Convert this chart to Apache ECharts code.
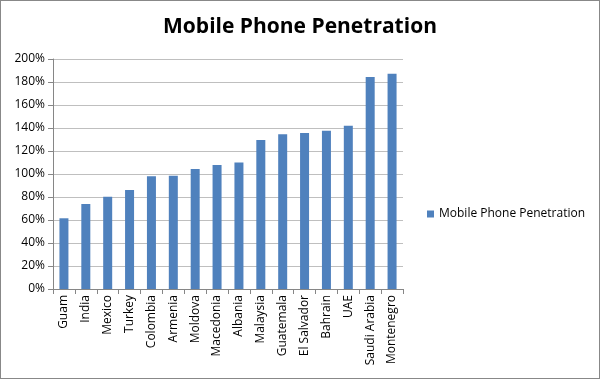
<!DOCTYPE html>
<html><head><meta charset="utf-8">
<script src="https://cdn.jsdelivr.net/npm/echarts@6/dist/echarts.min.js"></script>
<style>html,body{margin:0;padding:0;background:#fff}
#wrap{position:relative;width:600px;height:379px}
#c{position:absolute;left:0;top:0;width:600px;height:379px}
#frame{position:absolute;left:0;top:0;width:600px;height:379px;box-sizing:border-box;border:1px solid #888;pointer-events:none}</style>
</head><body><div id="wrap"><div id="c"></div><div id="frame"></div></div>
<script>
const categories = ["Guam","India","Mexico","Turkey","Colombia","Armenia","Moldova","Macedonia","Albania","Malaysia","Guatemala","El Salvador","Bahrain","UAE","Saudi Arabia","Montenegro"];
const penetration = [61.5, 74, 80.3, 86, 98, 98.5, 104.3, 107.8, 110.1, 129.6, 134.5, 135.6, 137.7, 142, 184.3, 187.2];
const yTicks = [0, 20, 40, 60, 80, 100, 120, 140, 160, 180, 200];
const seriesName = "Mobile Phone Penetration";
const font = "'Open Sans', 'Liberation Sans', sans-serif";
const chart = echarts.init(document.getElementById('c'), null, {renderer: 'canvas'});
chart.setOption({
  animation: false,
  title: {text: "Mobile Phone Penetration", left: 'center', top: 12,
    textStyle: {fontFamily: font, fontWeight: 'bold', fontSize: 21, color: '#000'}},
  legend: {data: [seriesName], left: 422, top: 203, itemWidth: 7, itemHeight: 7, itemGap: 4,
    icon: 'rect', textStyle: {fontFamily: font, fontSize: 12, color: '#000'}},
  grid: {left: 53, right: 197, top: 59, bottom: 90, containLabel: false},
  xAxis: {type: 'category', data: categories,
    axisLine: {lineStyle: {color: '#868686'}},
    axisTick: {show: true, alignWithLabel: false, length: 5, lineStyle: {color: '#868686'}},
    axisLabel: {rotate: 90, fontFamily: font, fontSize: 12, color: '#000', margin: 6}},
  yAxis: {type: 'value', min: 0, max: 200, interval: 20,
    axisLine: {show: true, lineStyle: {color: '#868686'}},
    axisTick: {show: true, length: 5, lineStyle: {color: '#868686'}},
    splitLine: {lineStyle: {color: '#bfbfbf'}},
    axisLabel: {fontFamily: font, fontSize: 12, color: '#000', margin: 8,
      formatter: v => yTicks.includes(v) ? v + '%' : ''}},
  series: [{name: seriesName, type: 'bar', data: penetration, barWidth: 9,
    itemStyle: {color: '#4f81bd'}}]
});
</script></body></html>
